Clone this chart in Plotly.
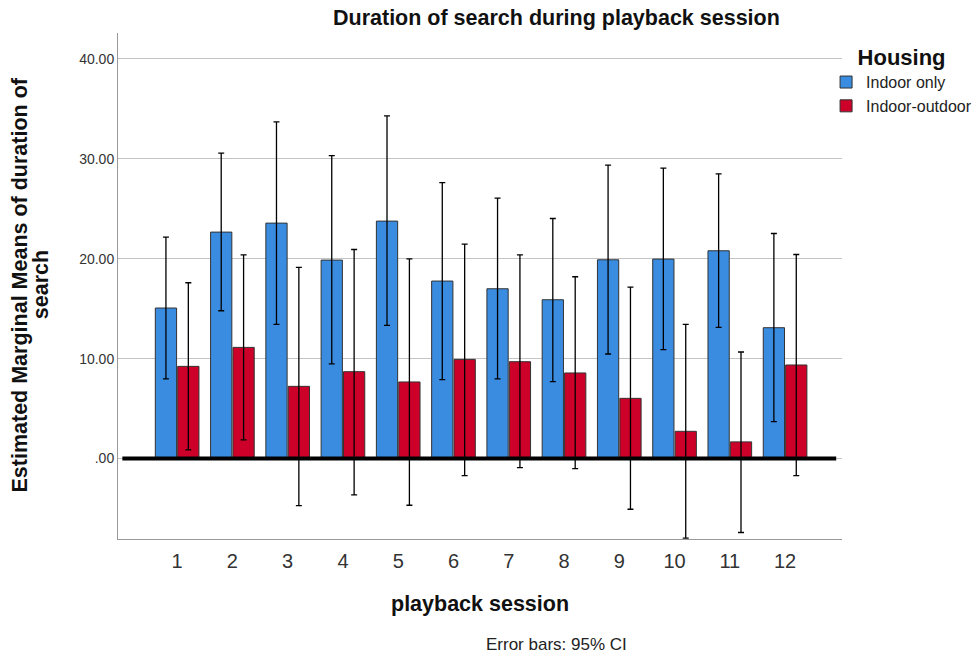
import plotly.graph_objects as go

# Estimated marginal means with 95% confidence limits, by playback session and housing
sessions = [1, 2, 3, 4, 5, 6, 7, 8, 9, 10, 11, 12]
session_labels = ["1", "2", "3", "4", "5", "6", "7", "8", "9", "10", "11", "12"]

indoor_mean = [15.07, 22.67, 23.57, 19.87, 23.77, 17.77, 17.0, 15.9, 19.9, 19.97, 20.8, 13.1]
indoor_hi = [22.17, 30.57, 33.7, 30.33, 34.3, 27.63, 26.07, 24.03, 29.37, 29.07, 28.5, 22.53]
indoor_lo = [7.97, 14.8, 13.43, 9.47, 13.33, 7.9, 7.97, 7.7, 10.47, 10.9, 13.13, 3.7]

outdoor_mean = [9.23, 11.13, 7.23, 8.7, 7.67, 9.93, 9.7, 8.57, 6.03, 2.73, 1.67, 9.37]
outdoor_hi = [17.6, 20.4, 19.13, 20.93, 20.0, 21.47, 20.4, 18.2, 17.17, 13.43, 10.67, 20.43]
outdoor_lo = [0.87, 1.87, -4.7, -3.63, -4.67, -1.7, -0.9, -1.0, -5.07, -7.97, -7.4, -1.7]

y_tickvals = [0, 10, 20, 30, 40]
y_ticktext = [".00", "10.00", "20.00", "30.00", "40.00"]

BLUE = "#3a8ce0"
RED = "#cc0029"
SANS = "Liberation Sans, Arial, sans-serif"


def err(mean, hi, lo):
    return dict(
        type="data",
        symmetric=False,
        array=[h - m for h, m in zip(hi, mean)],
        arrayminus=[m - l for m, l in zip(mean, lo)],
        color="black",
        thickness=1.3,
        width=3,
    )


fig = go.Figure()
fig.add_trace(go.Bar(
    x=sessions, y=indoor_mean, name="Indoor only",
    marker=dict(color=BLUE, line=dict(color="#333333", width=1)),
    error_y=err(indoor_mean, indoor_hi, indoor_lo),
))
fig.add_trace(go.Bar(
    x=sessions, y=outdoor_mean, name="Indoor-outdoor",
    marker=dict(color=RED, line=dict(color="#333333", width=1)),
    error_y=err(outdoor_mean, outdoor_hi, outdoor_lo),
))

# heavy reference line at zero
fig.add_shape(type="line", xref="paper", yref="y", x0=0.006, x1=0.992, y0=0, y1=0,
              line=dict(color="black", width=4), layer="above")

title_font = dict(family=SANS, size=21.5, color="#111111")

fig.update_layout(
    width=978, height=657,
    margin=dict(l=118, r=136, t=33, b=118, autoexpand=False),
    paper_bgcolor="white", plot_bgcolor="white",
    barmode="group", bargap=0.19, bargroupgap=0.05,
    font=dict(family=SANS, color="#222222"),
    showlegend=True,
    legend=dict(
        x=0.978, y=0.993, xanchor="left", yanchor="top",
        title=dict(text="<b>Housing</b>", side="top center",
                   font=dict(family=SANS, size=22, color="#111111")),
        font=dict(family=SANS, size=16, color="#222222"),
        tracegroupgap=0, itemclick=False, bgcolor="rgba(0,0,0,0)",
    ),
    xaxis=dict(
        range=[-0.07, 13.03], tickvals=sessions, ticktext=session_labels,
        showgrid=False, zeroline=False, showline=True, linecolor="#999999", linewidth=1,
        ticks="", ticklabelstandoff=4, tickfont=dict(family=SANS, size=20, color="#333333"),
    ),
    yaxis=dict(
        range=[-8.05, 42.6], tickvals=y_tickvals, ticktext=y_ticktext,
        showgrid=True, gridcolor="#c4c4c4", gridwidth=1.2, zeroline=False,
        showline=True, linecolor="#999999", linewidth=1,
        ticks="", tickfont=dict(family=SANS, size=14, color="#333333"),
    ),
    annotations=[
        dict(text="<b>Duration of search during playback session</b>", xref="paper", yref="paper",
             x=0.606, y=1.030, xanchor="center", yanchor="middle", showarrow=False,
             font=title_font),
        dict(text="<b>playback session</b>", xref="paper", yref="paper",
             x=0.5, y=-0.128, xanchor="center", yanchor="middle", showarrow=False,
             font=title_font),
        dict(text="<b>Estimated Marginal Means of duration of</b>", xref="paper", yref="paper",
             x=-0.136, y=0.502, xanchor="center", yanchor="middle", showarrow=False, textangle=-90,
             font=title_font),
        dict(text="<b>search</b>", xref="paper", yref="paper",
             x=-0.106, y=0.502, xanchor="center", yanchor="middle", showarrow=False, textangle=-90,
             font=title_font),
        dict(text="Error bars: 95% CI", xref="paper", yref="paper",
             x=0.606, y=-0.209, xanchor="center", yanchor="middle", showarrow=False,
             font=dict(family=SANS, size=17, color="#222222")),
    ],
)

fig.write_html("out.html")
